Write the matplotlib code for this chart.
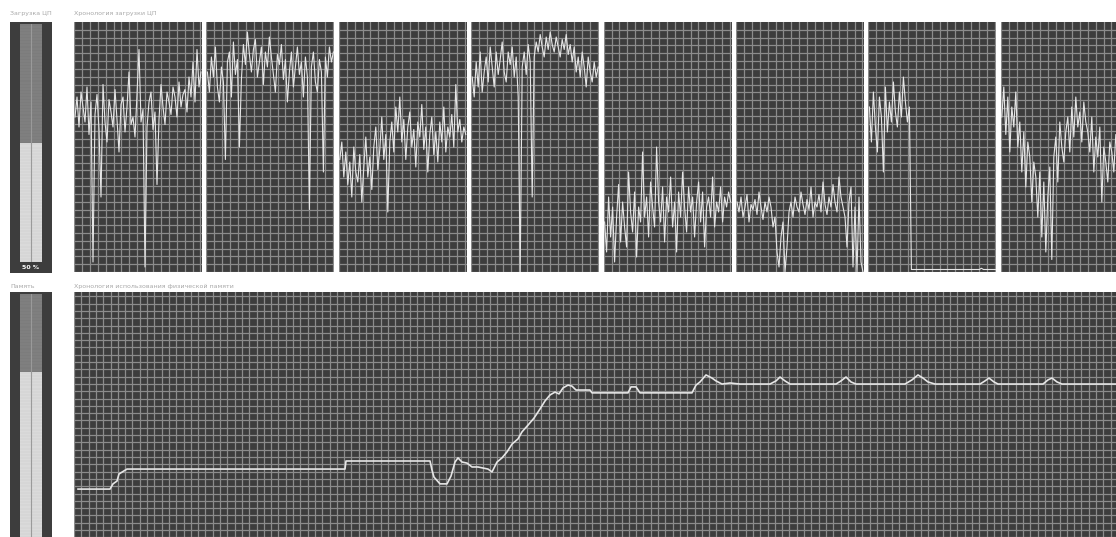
import numpy as np
import matplotlib.pyplot as plt

W, H = 1116, 537

# CPU history, percent per sample (8 cores)
cpu_p1 = [62, 70, 58, 72, 66, 60, 74, 55, 68, 4, 63, 71, 57, 30, 75, 60, 52, 69, 64, 58,
          73, 61, 48, 67, 70, 56, 66, 80, 59, 62, 54, 71, 89, 60, 65, 2, 58, 68, 72, 57,
          64, 35, 61, 75, 66, 59, 72, 68, 63, 74, 70, 62, 76, 66, 71, 73, 64, 78, 70, 84,
          68, 89, 74, 80]
cpu_p2 = [80, 72, 86, 78, 90, 74, 68, 82, 76, 45, 84, 88, 70, 92, 79, 85, 50, 77, 91, 83,
          96, 87, 80, 89, 93, 78, 84, 90, 75, 88, 82, 94, 86, 79, 72, 87, 83, 91, 77, 85,
          68, 80, 88, 74, 82, 90, 79, 84, 70, 86, 78, 25, 82, 88, 76, 72, 85, 80, 40, 86,
          78, 90, 84, 88]
cpu_p3 = [45, 52, 38, 48, 35, 44, 30, 50, 40, 36, 47, 28, 42, 54, 38, 46, 33, 50, 58, 41,
          49, 62, 45, 55, 24, 52, 60, 48, 66, 56, 70, 52, 61, 45, 58, 64, 50, 57, 42, 60,
          54, 67, 49, 58, 40, 55, 62, 47, 56, 44, 60, 52, 66, 48, 58, 54, 63, 50, 75, 56,
          61, 52, 58, 55]
cpu_p4 = [78, 70, 84, 74, 88, 72, 80, 86, 76, 90, 82, 74, 88, 79, 85, 92, 80, 76, 88, 83,
          90, 78, 86, 70, 0, 82, 88, 79, 91, 84, 30, 86, 92, 88, 95, 90, 86, 94, 89, 96,
          91, 88, 94, 90, 86, 93, 89, 95, 87, 91, 84, 90, 80, 86, 78, 88, 82, 74, 86, 80,
          76, 84, 78, 82]
cpu_p5 = [20, 8, 30, 14, 26, 4, 22, 35, 12, 28, 18, 10, 40, 24, 16, 32, 6, 26, 20, 48,
          22, 30, 14, 36, 26, 18, 50, 28, 20, 34, 12, 30, 24, 38, 18, 28, 8, 32, 22, 40,
          26, 16, 34, 24, 30, 14, 28, 36, 20, 32, 10, 26, 30, 22, 38, 18, 28, 24, 34, 20,
          30, 26, 32, 28]
cpu_p6 = [28, 24, 30, 22, 26, 31, 20, 27, 25, 29, 23, 32, 26, 21, 28, 24, 30, 26, 18, 22,
          8, 2, 14, 20, 0, 10, 24, 28, 22, 30, 26, 24, 32, 27, 23, 29, 25, 34, 22, 28,
          26, 31, 24, 36, 27, 23, 30, 26, 35, 28, 24, 38, 30, 26, 22, 10, 28, 34, 2, 26,
          0, 30, 4, 0]
cpu_p7 = [66, 52, 72, 58, 48, 70, 62, 40, 74, 56, 68, 60, 76, 64, 58, 72, 62, 78, 68, 60,
          66, 1, 1, 1, 1, 1, 1, 1, 1, 1, 1, 1, 1, 1, 1, 1, 1, 1, 1, 1,
          1, 1, 1, 1, 1, 1, 1, 1, 1, 1, 1, 1, 1, 1, 1, 1, 1.5, 1, 1, 1,
          1, 1, 1, 1]
cpu_p8 = [62, 74, 55, 70, 48, 66, 58, 72, 50, 60, 40, 56, 34, 52, 46, 28, 44, 38, 22, 40,
          14, 36, 8, 30, 42, 5, 46, 54, 36, 60, 50, 44, 56, 62, 48, 66, 54, 70, 58, 64,
          52, 68, 60, 56, 48, 62, 40, 54, 46, 58, 28, 50, 44, 36, 52, 48, 40, 55, 45, 50,
          42, 48, 46, 44]
cpu_cores = [cpu_p1, cpu_p2, cpu_p3, cpu_p4, cpu_p5, cpu_p6, cpu_p7, cpu_p8]
cpu_now = 50

# physical memory history: time step and percent used
mem_t = [4, 36, 39, 43, 45, 50, 53, 271, 272, 356, 358, 360, 366, 373, 377, 381, 384, 388,
         393, 398, 404, 414, 418, 423, 428, 433, 438, 444, 448, 454, 460, 466, 471, 476,
         481, 485, 489, 494, 498, 502, 516, 518, 554, 557, 562, 566, 618, 622, 626, 632,
         638, 642, 648, 656, 666, 696, 702, 706, 711, 716, 762, 767, 772, 777, 782, 831,
         838, 844, 849, 854, 861, 906, 911, 915, 920, 924, 969, 974, 978, 983, 988, 1042]
mem_pct = [24.2, 24.2, 26.2, 27.3, 30.0, 31.2, 31.9, 31.9, 35.0, 35.0, 31.5, 28.8, 26.2,
           26.2, 29.2, 34.6, 36.2, 34.6, 34.2, 32.7, 32.7, 31.9, 30.8, 34.6, 36.2, 38.5,
           41.5, 43.5, 46.2, 48.8, 51.5, 55.0, 58.1, 60.4, 61.5, 60.8, 63.1, 64.2, 63.8,
           62.3, 62.3, 61.2, 61.2, 63.5, 63.5, 61.2, 61.2, 64.2, 65.4, 68.1, 66.9, 65.8,
           64.6, 65.0, 64.6, 64.6, 65.8, 67.3, 65.8, 64.6, 64.6, 65.8, 67.3, 65.4, 64.6,
           64.6, 66.2, 68.1, 66.9, 65.4, 64.6, 64.6, 65.8, 66.9, 65.4, 64.6, 64.6, 66.2,
           66.9, 65.4, 64.6, 64.6]
mem_now = 68

BG = '#3d3d3d'
GRID = '#8c8c8c'
LINE = '#e6e6e6'
LABEL = '#a8a8a8'

fig = plt.figure(figsize=(W / 100, H / 100), dpi=100)
fig.patch.set_facecolor('white')


def px_axes(x0, y0, x1, y1):
    return fig.add_axes([x0 / W, 1 - y1 / H, (x1 - x0) / W, (y1 - y0) / H])


def grid_panel(ax, xmax, xstep, ystep):
    ax.set_facecolor(BG)
    ax.set_xlim(0, xmax)
    ax.set_ylim(0, 100)
    ax.set_xticks(np.arange(0, xmax, xstep))
    ax.set_yticks(np.arange(0, 100, ystep))
    ax.tick_params(length=0, labelbottom=False, labelleft=False)
    ax.grid(True, color=GRID, linewidth=0.9)
    ax.set_axisbelow(True)
    for s in ax.spines.values():
        s.set_visible(False)


def gauge(x0, y0, x1, y1, value, label):
    box = px_axes(x0, y0, x1, y1)
    box.set_facecolor(BG)
    box.set_xticks([])
    box.set_yticks([])
    for s in box.spines.values():
        s.set_visible(False)
    col = px_axes(x0 + 10, y0 + 2, x1 - 10, y1 - 11)
    col.set_facecolor('#7c7c7c')
    col.set_xlim(-1, 1)
    col.set_ylim(0, 100)
    col.bar([0], [value], width=2, color='#dadada')
    for yy in np.arange(0, 100, 1.3):
        col.axhline(yy, color='#8e8e8e' if yy > value else '#cacaca', linewidth=0.3)
    col.axvline(0, color='#9a9a9a', linewidth=0.8)
    col.set_xticks([])
    col.set_yticks([])
    for s in col.spines.values():
        s.set_visible(False)
    if label:
        fig.text((x0 + x1) / 2 / W, 1 - (y1 - 5) / H, label, ha='center', va='center',
                 fontsize=4.5, color='white', fontweight='bold')


# CPU section
fig.text(10 / W, 1 - 14 / H, 'Загрузка ЦП', fontsize=4.5, color=LABEL, va='center')
fig.text(74 / W, 1 - 14 / H, 'Хронология загрузки ЦП', fontsize=4.5, color=LABEL, va='center')
gauge(10, 22, 52, 273, cpu_now, f'{cpu_now} %')

for i, core in enumerate(cpu_cores):
    left = 74 + i * 132.4
    ax = px_axes(left, 22, left + 128, 272)
    grid_panel(ax, 128, 7.9, 3.125)
    ax.plot(np.arange(len(core)) * 2 + 1, core, color=LINE, linewidth=0.8)

# memory section
fig.text(10 / W, 1 - 286 / H, 'Память', fontsize=4.5, color=LABEL, va='center')
fig.text(74 / W, 1 - 286 / H, 'Хронология использования физической памяти',
         fontsize=4.5, color=LABEL, va='center')
gauge(10, 292, 52, 548, mem_now, '')

ax = px_axes(74, 292, 1120, 552)
grid_panel(ax, 1046, 7.3, 2.81)
ax.plot(mem_t, mem_pct, color=LINE, linewidth=1.2)

fig.savefig('out.png', dpi=100, facecolor='white')
